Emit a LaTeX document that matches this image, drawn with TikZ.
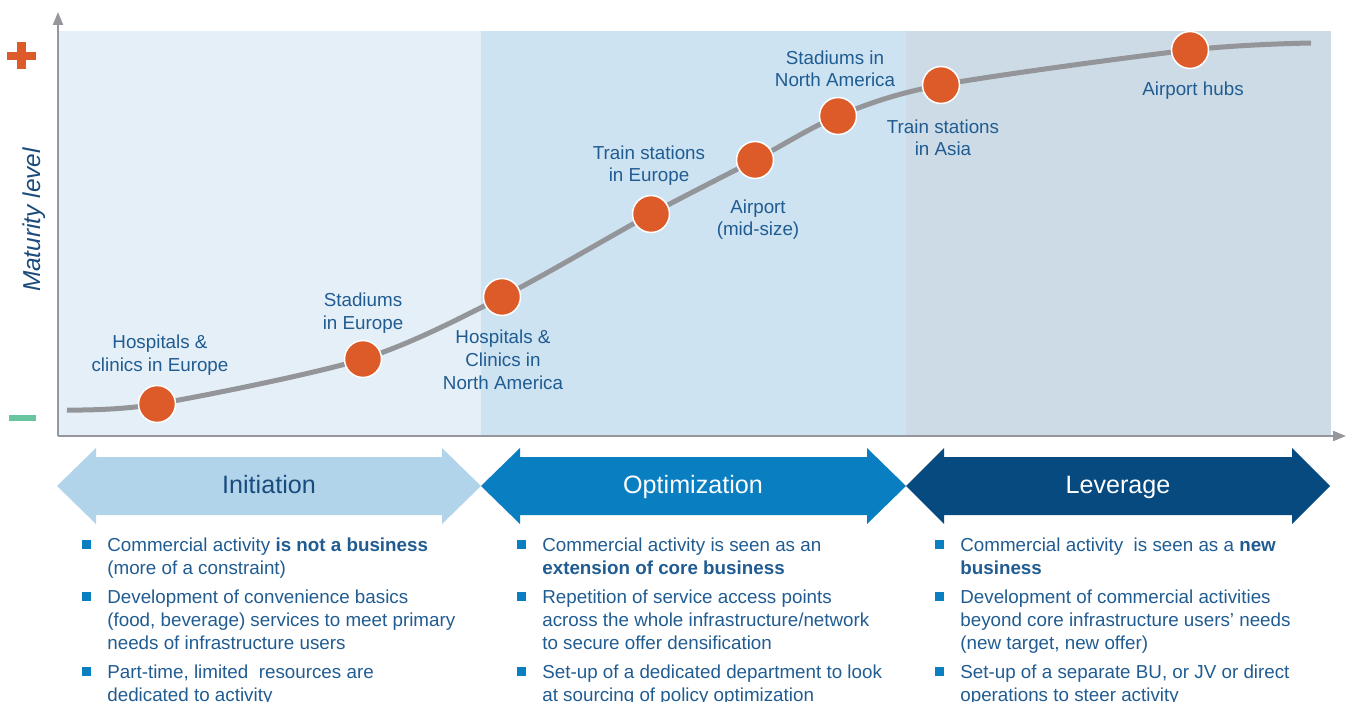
\documentclass[tikz,border=0pt]{standalone}
\usepackage{fontspec}
\setmainfont{Liberation Sans}
\usetikzlibrary{arrows.meta}

\definecolor{bandone}{RGB}{229,239,248}
\definecolor{bandtwo}{RGB}{205,227,242}
\definecolor{bandthree}{RGB}{205,219,230}
\definecolor{axisgrey}{RGB}{150,150,156}
\definecolor{curvegrey}{RGB}{147,149,152}
\definecolor{dotorange}{RGB}{221,91,40}
\definecolor{lowgreen}{RGB}{105,196,160}
\definecolor{textblue}{RGB}{32,92,145}
\definecolor{darkblue}{RGB}{25,75,125}
\definecolor{paleblue}{RGB}{178,212,235}
\definecolor{midblue}{RGB}{9,126,193}
\definecolor{deepblue}{RGB}{7,74,128}

% square bullet hanging left of the text
\newcommand\sq{\llap{\textcolor{midblue}{\rule[0.05cm]{0.18cm}{0.18cm}}\hspace{0.32cm}}}

\begin{document}
\begin{tikzpicture}[x=0.02cm, y=-0.02cm,
    stop/.style={circle, fill=dotorange, draw=white, line width=0.03cm,
      minimum size=0.74cm, inner sep=0pt},
    tag/.style={align=center, anchor=base, text=textblue,
      font=\fontsize{10.7}{13}\selectfont},
    phase/.style={anchor=base, font=\fontsize{14.3}{17}\selectfont},
    points/.style={align=left, anchor=base west, inner sep=0pt, text=textblue,
      font=\fontsize{10.7}{13}\selectfont},
    axis/.style={draw=axisgrey, line width=0.04cm,
      -{Triangle[length=0.26cm, width=0.2cm]}},
    curve/.style={draw=curvegrey, line width=0.1cm}]
  \useasboundingbox (0,0) rectangle (1351,702);
  \clip (0,0) rectangle (1351,702);

  % bands
  \fill[bandone] (58,31) rectangle (481,436);
  \fill[bandtwo] (481,31) rectangle (906,436);
  \fill[bandthree] (906,31) rectangle (1331,436);

  % axes
  \coordinate (origin) at (58,436);
  \coordinate (ytop) at (58,12);
  \coordinate (xend) at (1346,436);
  \draw[axis] (origin) -- (ytop);
  \draw[axis] (origin) -- (xend);
  \node[rotate=90, text=darkblue, font=\fontsize{13.9}{16}\selectfont\itshape]
    (maturity) at (34,220) {Maturity level};

  % plus and minus
  \fill[dotorange] (7,52) rectangle (36,60);
  \fill[dotorange] (17,42) rectangle (26,69);
  \fill[lowgreen] (9,415) rectangle (36,421);

  % curve
  \coordinate (c0) at (67,410);
  \coordinate (c1) at (157,404);
  \coordinate (c2) at (363,359);
  \coordinate (c3) at (502,297);
  \coordinate (c4) at (651,214);
  \coordinate (c5) at (755,160);
  \coordinate (c6) at (838,116);
  \coordinate (c7) at (941,85);
  \coordinate (c8) at (1190,50);
  \coordinate (c9) at (1311,43);
  \draw[curve] plot[smooth] coordinates
    {(c0) (c1) (c2) (c3) (c4) (c5) (c6) (c7) (c8) (c9)};

  \node[stop] (hospeu) at (c1) {};
  \node[stop] (stadeu) at (c2) {};
  \node[stop] (hospna) at (c3) {};
  \node[stop] (traineu) at (c4) {};
  \node[stop] (airmid) at (c5) {};
  \node[stop] (stadna) at (c6) {};
  \node[stop] (trainasia) at (c7) {};
  \node[stop] (hubs) at (c8) {};

  % labels sit on the baseline of their last line
  \node[tag] (hospeutag) at (160,371) {Hospitals \&\\clinics in Europe};
  \node[tag] (stadeutag) at (363,329) {Stadiums\\in Europe};
  \node[tag] (hospnatag) at (503,389) {Hospitals \&\\Clinics in\\North America};
  \node[tag] (traineutag) at (649,182) {Train stations\\in Europe};
  \node[tag] (airmidtag) at (758,236) {Airport\\(mid-size)};
  \node[tag] (stadnatag) at (835,87) {Stadiums in\\North America};
  \node[tag] (trainasiatag) at (943,156) {Train stations\\in Asia};
  \node[tag] (hubstag) at (1193,96) {Airport hubs};

  % phases
  \fill[paleblue] (57,486) -- (96,448) -- (96,457) -- (442,457) -- (442,448)
    -- (481,486) -- (442,524) -- (442,515) -- (96,515) -- (96,524) -- cycle;
  \fill[midblue] (481,486) -- (520,448) -- (520,457) -- (867,457) -- (867,448)
    -- (906,486) -- (867,524) -- (867,515) -- (520,515) -- (520,524) -- cycle;
  \fill[deepblue] (906,486) -- (944,448) -- (944,457) -- (1292,457) -- (1292,448)
    -- (1330,486) -- (1292,524) -- (1292,515) -- (944,515) -- (944,524) -- cycle;
  \node[phase, text=darkblue] (initiation) at (269,493) {Initiation};
  \node[phase, text=white] (optimization) at (693,493) {Optimization};
  \node[phase, text=white] (leverage) at (1118,493) {Leverage};

  % bullet points
  \node[points] (initpts) at (107,701) {%
    \sq Commercial activity \textbf{is not a business}\\
    (more of a constraint)\\[0.12cm]
    \sq Development of convenience basics\\
    (food, beverage) services to meet primary\\
    needs of infrastructure users\\[0.12cm]
    \sq Part-time, limited\ \ resources are\\
    dedicated to activity};
  \node[points] (optpts) at (542,701) {%
    \sq Commercial activity is seen as an\\
    \textbf{extension of core business}\\[0.12cm]
    \sq Repetition of service access points\\
    across the whole infrastructure/network\\
    to secure offer densification\\[0.12cm]
    \sq Set-up of a dedicated department to look\\
    at sourcing of policy optimization};
  \node[points] (levpts) at (960,701) {%
    \sq Commercial activity\ \ is seen as a \textbf{new}\\
    \textbf{business}\\[0.12cm]
    \sq Development of commercial activities\\
    beyond core infrastructure users’ needs\\
    (new target, new offer)\\[0.12cm]
    \sq Set-up of a separate BU, or JV or direct\\
    operations to steer activity};
\end{tikzpicture}
\end{document}
